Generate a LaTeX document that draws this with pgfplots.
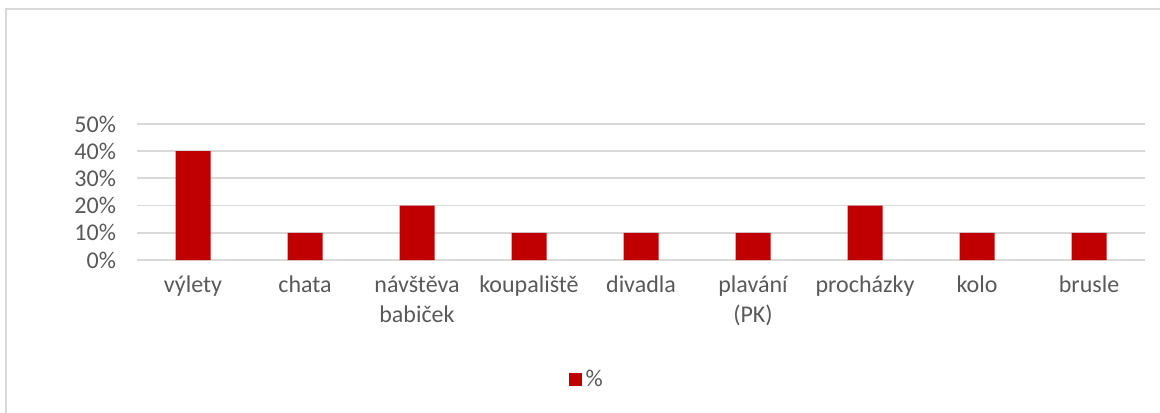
\documentclass[border=0pt]{standalone}
\usepackage{fontspec}
\setmainfont{Carlito}
\usepackage{pgfplots}
\pgfplotsset{compat=1.18}
\definecolor{barred}{HTML}{C00000}
\definecolor{gridgray}{HTML}{D9D9D9}
\definecolor{txtgray}{HTML}{595959}
\definecolor{framegray}{HTML}{D9D9D9}

\begin{document}
\begin{tikzpicture}
\useasboundingbox (0,0) rectangle (580pt,206pt);
\draw[framegray, line width=0.8pt] (3pt,-2pt) -- (3pt,201.5pt) -- (582pt,201.5pt);
\begin{axis}[
    at={(68.5pt,76pt)}, anchor=south west,
    scale only axis,
    width=504pt, height=68pt,
    ybar, bar width=17.5pt,
    xmin=-0.5, xmax=8.5,
    ymin=0, ymax=50,
    xtick=data,
    xticklabels={výlety, chata, {návštěva\\babiček}, koupaliště, divadla, {plavání\\(PK)}, procházky, kolo, brusle},
    xticklabel style={align=center, font=\fontsize{12}{15}\selectfont, text=txtgray, yshift=-4.5pt},
    ytick={0,10,20,30,40,50},
    yticklabels={0\%,10\%,20\%,30\%,40\%,50\%},
    yticklabel style={font=\fontsize{12}{13}\selectfont, text=txtgray, xshift=-7pt},
    major tick length=0pt,
    ymajorgrids, grid style={gridgray, line width=0.9pt},
    axis line style={draw=none},
    legend style={at={(0.447,-0.88)}, anchor=center, draw=none,
        font=\fontsize{12}{13}\selectfont, text=txtgray},
    legend image code/.code={\fill[barred] (0pt,-3.2pt) rectangle (6.5pt,3.2pt);},
]
\addplot[fill=barred, draw=none] coordinates {
    (0,40) (1,10) (2,20) (3,10) (4,10) (5,10) (6,20) (7,10) (8,10)
};
\addlegendentry{\%}
\end{axis}
\end{tikzpicture}
\end{document}
